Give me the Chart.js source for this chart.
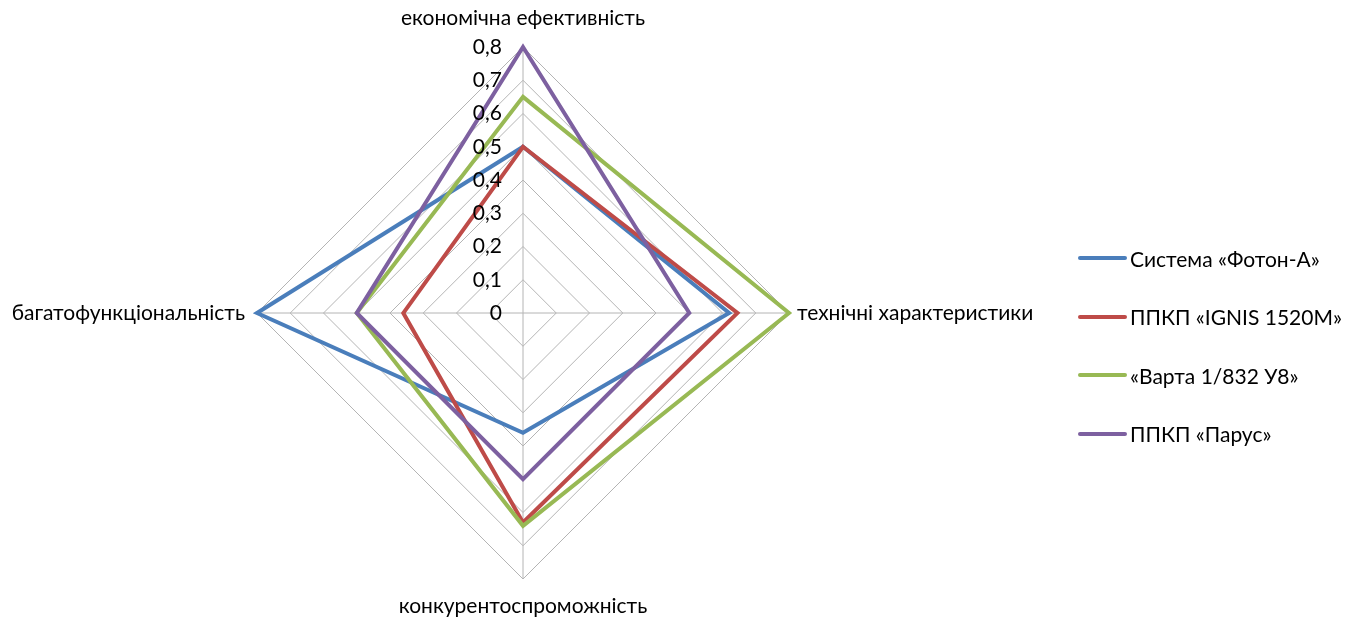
<!DOCTYPE html>
<html>
<head>
<meta charset="utf-8">
<title>Radar</title>
<script src="https://cdn.jsdelivr.net/npm/chart.js@4.4.1/dist/chart.umd.min.js"></script>
<style>
    body { margin: 0; background: #fff; }
    #wrap { position: relative; width: 1354px; height: 619px; }
    #legend {
        position: absolute;
        left: 1078px;
        top: 229px;
        font-family: Lato, "Open Sans", sans-serif;
        font-size: 21px;
        color: #000;
    }
    .item { display: flex; align-items: center; height: 58.5px; white-space: nowrap; }
    .swatch { display: inline-block; width: 49px; height: 4px; border-radius: 2px; margin-right: 3px; }
</style>
</head>
<body>
<div id="wrap">
    <canvas id="radarChart" width="1354" height="619"></canvas>
    <div id="legend"></div>
</div>
<script>
// axis categories (clockwise from top)
const categories = ['економічна ефективність', 'технічні характеристики', 'конкурентоспроможність', 'багатофункціональність'];

// series
const seriesNames = ['Система «Фотон-А»', 'ППКП «IGNIS 1520M»', '«Варта 1/832 У8»', 'ППКП «Парус»'];
const fotonA = [0.5, 0.62, 0.36, 0.8];
const ignis = [0.5, 0.645, 0.63, 0.36];
const varta = [0.65, 0.8, 0.64, 0.5];
const parus = [0.8, 0.5, 0.5, 0.5];
const seriesColors = ['#4a7ebb', '#be4b48', '#98b954', '#7d60a0'];

// radial ticks
const tickValues = [0, 0.1, 0.2, 0.3, 0.4, 0.5, 0.6, 0.7, 0.8];
const tickLabels = ['0', '0,1', '0,2', '0,3', '0,4', '0,5', '0,6', '0,7', '0,8'];

const FONT = '21px Lato, "Open Sans", sans-serif';

// draw tick labels and axis names using the radial scale positions
const radarText = {
    id: 'radarText',
    afterDraw(chart) {
        const scale = chart.scales.r;
        const ctx = chart.ctx;
        ctx.save();
        ctx.fillStyle = '#000';
        ctx.font = FONT;

        // tick labels left of the vertical axis
        ctx.textAlign = 'right';
        ctx.textBaseline = 'middle';
        tickValues.forEach((v, i) => {
            const y = scale.yCenter - scale.getDistanceFromCenterForValue(v);
            ctx.fillText(tickLabels[i], scale.xCenter - 21, y);
        });

        // axis names
        const gaps = [29, 8, 27, 12];
        const aligns = ['center', 'left', 'center', 'right'];
        categories.forEach((name, i) => {
            const p = scale.getPointPosition(i, scale.drawingArea + gaps[i]);
            ctx.textAlign = aligns[i];
            ctx.fillText(name, p.x, p.y);
        });
        ctx.restore();
    }
};

const allSeries = [fotonA, ignis, varta, parus];

const ctx = document.getElementById('radarChart').getContext('2d');
new Chart(ctx, {
    type: 'radar',
    data: {
        labels: categories,
        datasets: allSeries.map((vals, i) => ({
            label: seriesNames[i],
            data: vals,
            borderColor: seriesColors[i],
            backgroundColor: 'transparent',
            borderWidth: 4,
            fill: false,
            pointRadius: 0,
            pointHoverRadius: 0,
            tension: 0,
            order: allSeries.length - i  // later series on top
        }))
    },
    options: {
        responsive: false,
        animation: false,
        layout: {
            padding: { left: 257, right: 565, top: 47, bottom: 40 }
        },
        plugins: {
            legend: { display: false },
            tooltip: { enabled: false }
        },
        scales: {
            r: {
                min: 0,
                max: 0.8,
                ticks: { stepSize: 0.1, display: false },
                grid: { color: '#b4b4b4', lineWidth: 1 },
                angleLines: { color: '#b4b4b4', lineWidth: 1 },
                pointLabels: { display: false }
            }
        }
    },
    plugins: [radarText]
});

// html legend
const legend = document.getElementById('legend');
seriesNames.forEach((name, i) => {
    const row = document.createElement('div');
    row.className = 'item';
    row.innerHTML = '<span class="swatch" style="background:' + seriesColors[i] + '"></span>' + name;
    legend.appendChild(row);
});
</script>
</body>
</html>
